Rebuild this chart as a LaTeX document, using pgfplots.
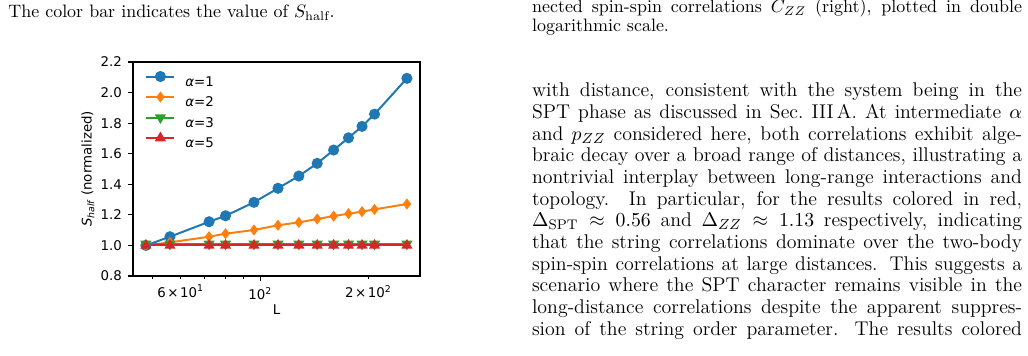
\documentclass[border=0pt]{standalone}
\usepackage{pgfplots}
\usepackage{pgfplotstable}
\pgfplotsset{compat=1.18}
\usepackage{fontspec}
\newfontfamily\dv{DejaVu Sans}
\definecolor{tabblue}{HTML}{1F77B4}
\definecolor{taborange}{HTML}{FF7F0E}
\definecolor{tabgreen}{HTML}{2CA02C}
\definecolor{tabred}{HTML}{D62728}
\newcommand\figfont{\fontsize{7.4}{8.9}\selectfont\dv}
\newcommand\capfont{\fontsize{9.95}{11}\selectfont}
% one justified line of the body text, #1 = line number
\newcommand\bodyline[2]{\node[anchor=base west,inner sep=0pt] at (531.7,{96.7+21.67*#1}) {\fontsize{11}{13}\selectfont\makebox[271.3pt][s]{#2}};}

% S_half normalised to its value at L = 48
\pgfplotstableread{
L    a1     a2     a3     a5
48   1.000  1.000  1.010  1.000
56   1.057  1.020  1.010  1.000
72   1.155  1.057  1.010  1.000
80   1.194  1.077  1.010  1.000
96   1.282  1.101  1.010  1.000
112  1.374  1.132  1.010  1.000
128  1.454  1.151  1.010  1.000
144  1.537  1.173  1.010  1.000
160  1.624  1.192  1.010  1.000
176  1.704  1.208  1.010  1.000
192  1.779  1.221  1.010  1.000
208  1.859  1.236  1.010  1.000
256  2.093  1.271  1.010  1.000
}\shalf

\begin{document}
\begin{tikzpicture}
\path[use as bounding box] (0,0) rectangle (569.2pt,-196.56pt);
\begin{scope}[x=0.5537pt,y=-0.5537pt]
  % captions
  \node[anchor=base west,inner sep=0pt] at (8,17.3)
    {\capfont The color bar indicates the value of $S_{\mathrm{half}}$.};
  \node[anchor=base west,inner sep=0pt] at (531.7,12.6)
    {\capfont\makebox[271.3pt][s]{nected spin-spin correlations $C_{ZZ}$ (right), plotted in double}};
  \node[anchor=base west,inner sep=0pt] at (531.7,31.2)
    {\capfont logarithmic scale.};
  % body text
  \bodyline{0}{with distance, consistent with the system being in the}
  \bodyline{1}{SPT phase as discussed in Sec.~III\,A. At intermediate $\alpha$}
  \bodyline{2}{and $p_{ZZ}$ considered here, both correlations exhibit alge-}
  \bodyline{3}{braic decay over a broad range of distances, illustrating a}
  \bodyline{4}{nontrivial interplay between long-range interactions and}
  \bodyline{5}{topology. In particular, for the results colored in red,}
  \bodyline{6}{$\Delta_{\mathrm{SPT}}\approx 0.56$ and $\Delta_{ZZ}\approx 1.13$ respectively, indicating}
  \bodyline{7}{that the string correlations dominate over the two-body}
  \bodyline{8}{spin-spin correlations at large distances. This suggests a}
  \bodyline{9}{scenario where the SPT character remains visible in the}
  \bodyline{10}{long-distance correlations despite the apparent suppres-}
  \bodyline{11}{sion of the string order parameter. The results colored}
\end{scope}

\begin{axis}[
  at={(73.64pt,-152.82pt)}, anchor=south west,
  scale only axis, width=158.91pt, height=118.49pt,
  xmode=log, xmin=44.2, xmax=278.4,
  ymin=0.8, ymax=2.2,
  ytick={0.8,1.0,1.2,1.4,1.6,1.8,2.0,2.2},
  yticklabel style={/pgf/number format/.cd, fixed, fixed zerofill, precision=1, assume math mode=true},
  xtick={100}, xticklabels={10\textsuperscript{2}},
  extra x ticks={60,200},
  extra x tick labels={6{\kern0.12em}×{\kern0.12em}10\textsuperscript{1}, 2{\kern0.12em}×{\kern0.12em}10\textsuperscript{2}},
  extra x tick style={grid=none, major tick length=1.5pt},
  minor xtick={50,70,80,90},
  tick pos=left, tick align=outside,
  major tick length=2.6pt, minor tick length=1.5pt,
  tick style={black, line width=0.6pt},
  axis line style={line width=0.6pt},
  tick label style={font=\figfont},
  xlabel={L},
  xlabel style={font=\figfont, at={(axis description cs:0.5,-0.159)}, anchor=center},
  ylabel={{\itshape S\textsubscript{half}} (normalized)},
  ylabel style={font=\figfont, at={(axis description cs:-0.157,0.5)}, anchor=center},
  legend style={draw=none, fill=none, at={(axis description cs:0.042,0.959)}, anchor=north west,
    inner sep=0pt, font=\figfont, column sep=5.5pt,
    nodes={inner sep=0pt, text height=8.4pt, text depth=2.95pt}},
  legend cell align=left,
  legend image code/.code={\draw[mark repeat=2,mark phase=2,#1] plot coordinates {(0pt,2.7pt) (7.75pt,2.7pt) (15.5pt,2.7pt)};},
]
\addplot[color=tabblue, line width=1.1pt, mark=*, mark size=2.5pt, mark options={solid}] table[x=L,y=a1] {\shalf};
\addlegendentry{{\itshape α}=1}
\addplot[color=taborange, line width=1.1pt, mark=diamond*, mark size=2.2pt, mark options={solid}] table[x=L,y=a2] {\shalf};
\addlegendentry{{\itshape α}=2}
\addplot[color=tabgreen, line width=1.1pt, mark=triangle*, mark size=2.5pt, mark options={solid, rotate=180}] table[x=L,y=a3] {\shalf};
\addlegendentry{{\itshape α}=3}
\addplot[color=tabred, line width=1.1pt, mark=triangle*, mark size=2.5pt, mark options={solid}] table[x=L,y=a5] {\shalf};
\addlegendentry{{\itshape α}=5}
\end{axis}
\end{tikzpicture}
\end{document}
